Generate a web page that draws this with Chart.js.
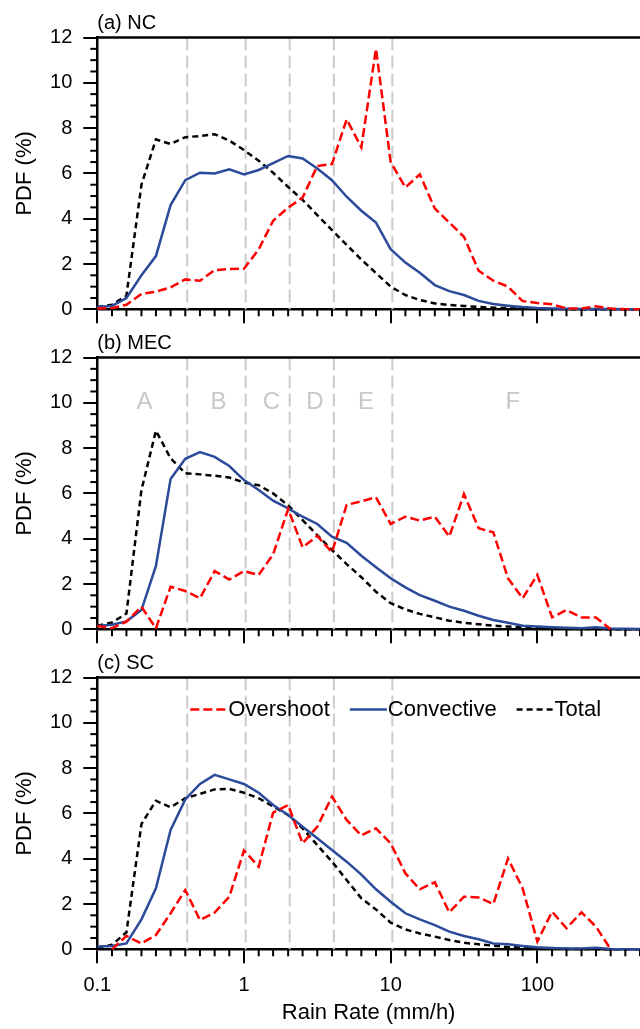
<!DOCTYPE html>
<html>
<head>
<meta charset="utf-8">
<title>Rain rate PDF</title>
<script src="https://cdn.jsdelivr.net/npm/chart.js@4.4.1/dist/chart.umd.min.js"></script>
<style>
  html, body { margin: 0; padding: 0; background: #fff; overflow: hidden; }
  #wrap { position: relative; width: 640px; height: 1029px; }
  #wrap canvas { position: absolute; left: 0; }
</style>
</head>
<body>
<div id="wrap">
  <canvas id="panelA" width="640" height="335" style="top:0px;width:640px;height:335px"></canvas>
  <canvas id="panelB" width="640" height="335" style="top:320px;width:640px;height:335px"></canvas>
  <canvas id="panelC" width="640" height="389" style="top:640px;width:640px;height:389px"></canvas>
</div>
<script>
// Rain-rate bin centres (mm/h), 10 bins per decade
const rainRate = [0.1, 0.126, 0.158, 0.2, 0.251, 0.316, 0.398, 0.501, 0.631, 0.794,
                  1, 1.26, 1.58, 2, 2.51, 3.16, 3.98, 5.01, 6.31, 7.94,
                  10, 12.6, 15.8, 20, 25.1, 31.6, 39.8, 50.1, 63.1, 79.4,
                  100, 126, 158, 200, 251, 316, 398, 501];

// Axis ticks
const xTickValues = [0.1, 1, 10, 100];
const xTickLabels = ['0.1', '1', '10', '100'];
const yTickValues = [0, 2, 4, 6, 8, 10, 12];

// Rain-rate regimes A–F and their boundaries
const regimeBounds = [0.41, 1.027, 2.05, 4.1, 10.27];
const regimeLetters = ['A', 'B', 'C', 'D', 'E', 'F'];
const regimeLetterX = [0.21, 0.67, 1.54, 3.04, 6.8, 68];
const regimeLetterY = 10;

const seriesNames = ['Overshoot', 'Convective', 'Total'];
const panelTitles = ['(a) NC', '(b) MEC', '(c) SC'];

// PDF (%) — North China
const ncOvershoot = [0.03, 0.05, 0.2, 0.68, 0.78, 0.97, 1.32, 1.26, 1.73, 1.78,
                     1.79, 2.65, 3.91, 4.49, 4.93, 6.33, 6.41, 8.39, 7.15, 11.5,
                     6.5, 5.38, 5.96, 4.45, 3.83, 3.2, 1.7, 1.26, 1.0, 0.36,
                     0.28, 0.22, 0.04, 0.03, 0.13, 0.03, 0, 0];
const ncConvective = [0.1, 0.15, 0.5, 1.5, 2.35, 4.6, 5.7, 6.03, 6.0, 6.18,
                      5.95, 6.15, 6.45, 6.77, 6.66, 6.22, 5.7, 4.97, 4.35, 3.83,
                      2.65, 2.06, 1.61, 1.07, 0.8, 0.63, 0.37, 0.23, 0.16, 0.1,
                      0.06, 0.04, 0.02, 0.01, 0.01, 0.01, 0, 0];
const ncTotal = [0.1, 0.2, 0.6, 5.5, 7.5, 7.3, 7.6, 7.65, 7.73, 7.45,
                 7.03, 6.56, 6.03, 5.4, 4.83, 4.16, 3.5, 2.84, 2.2, 1.6,
                 1.0, 0.63, 0.41, 0.26, 0.19, 0.15, 0.1, 0.07, 0.05, 0.03,
                 0.02, 0.01, 0.01, 0, 0, 0, 0, 0];

// PDF (%) — Middle and East China
const mecOvershoot = [0.15, 0.05, 0.34, 1.0, 0.04, 1.88, 1.69, 1.37, 2.57, 2.2,
                      2.57, 2.4, 3.31, 5.31, 3.62, 4.12, 3.4, 5.49, 5.65, 5.83,
                      4.65, 4.97, 4.8, 4.97, 4.09, 5.97, 4.46, 4.28, 2.25, 1.37,
                      2.4, 0.53, 0.85, 0.52, 0.52, 0, null, null];
const mecConvective = [0.15, 0.2, 0.35, 0.85, 2.8, 6.64, 7.53, 7.82, 7.61, 7.21,
                       6.59, 6.15, 5.68, 5.34, 4.97, 4.65, 4.09, 3.82, 3.25, 2.74,
                       2.25, 1.85, 1.51, 1.26, 1.0, 0.82, 0.6, 0.41, 0.29, 0.16,
                       0.12, 0.09, 0.07, 0.05, 0.09, 0.04, 0.02, 0.01];
const mecTotal = [0.16, 0.3, 0.7, 6.15, 8.77, 7.55, 6.89, 6.84, 6.78, 6.7,
                  6.48, 6.36, 6.0, 5.47, 4.82, 4.16, 3.5, 2.88, 2.3, 1.66,
                  1.15, 0.88, 0.68, 0.53, 0.38, 0.29, 0.22, 0.16, 0.12, 0.08,
                  0.05, 0.03, 0.02, 0.01, 0.01, 0, 0, 0];

// PDF (%) — South China
const scOvershoot = [null, 0, 0.59, 0.26, 0.63, 1.59, 2.62, 1.29, 1.62, 2.32,
                     4.36, 3.65, 6.03, 6.37, 4.68, 5.41, 6.74, 5.71, 5.03, 5.34,
                     4.68, 3.35, 2.65, 2.96, 1.63, 2.32, 2.29, 2.0, 4.01, 2.69,
                     0.34, 1.66, 0.93, 1.63, 1.0, 0, null, null];
const scConvective = [0.12, 0.15, 0.26, 1.32, 2.69, 5.27, 6.62, 7.3, 7.7, 7.5,
                      7.3, 6.91, 6.37, 5.93, 5.41, 4.9, 4.38, 3.87, 3.3, 2.65,
                      2.1, 1.59, 1.32, 1.07, 0.78, 0.59, 0.44, 0.26, 0.22, 0.15,
                      0.09, 0.06, 0.04, 0.03, 0.07, 0.01, 0, 0];
const scTotal = [0.05, 0.2, 0.75, 5.53, 6.56, 6.27, 6.67, 6.86, 7.06, 7.08,
                 6.91, 6.67, 6.3, 5.93, 5.34, 4.6, 3.87, 3.06, 2.25, 1.76,
                 1.18, 0.88, 0.7, 0.56, 0.41, 0.29, 0.22, 0.16, 0.1, 0.07,
                 0.05, 0.03, 0.02, 0.01, 0.01, 0, 0, 0];

const FONT = "'Liberation Sans', Arial, Helvetica, sans-serif";
Chart.defaults.font.family = FONT;
Chart.defaults.color = '#000';

const lineStyles = [
  { color: '#ff0000', dash: [9, 4] },   // Overshoot
  { color: '#2b4a9a', dash: [] },       // Convective
  { color: '#000000', dash: [6, 4] }    // Total
];

// Frame, minor ticks, regime markers, panel title and in-plot legend
const panelDecor = {
  id: 'panelDecor',
  beforeDatasetsDraw(chart, args, o) {
    const { ctx, chartArea: a, scales: { x, y } } = chart;
    ctx.save();
    ctx.strokeStyle = '#cccccc';
    ctx.lineWidth = 2;
    ctx.setLineDash([13, 5]);
    regimeBounds.forEach(v => {
      const px = x.getPixelForValue(v);
      ctx.beginPath();
      ctx.moveTo(px, a.top);
      ctx.lineTo(px, a.bottom);
      ctx.stroke();
    });
    ctx.setLineDash([]);
    if (o.letters) {
      ctx.fillStyle = '#c8c8c8';
      ctx.font = '24px ' + FONT;
      ctx.textAlign = 'center';
      ctx.textBaseline = 'middle';
      regimeLetters.forEach((t, i) => {
        ctx.fillText(t, x.getPixelForValue(regimeLetterX[i]), y.getPixelForValue(regimeLetterY));
      });
    }
    ctx.restore();
  },
  afterDraw(chart, args, o) {
    const { ctx, chartArea: a, scales: { x, y } } = chart;
    ctx.save();
    // top frame line
    ctx.strokeStyle = '#000';
    ctx.lineWidth = 2.5;
    ctx.beginPath();
    ctx.moveTo(a.left - 1.25, a.top);
    ctx.lineTo(a.right, a.top);
    ctx.stroke();
    // minor ticks
    ctx.lineWidth = 2;
    rainRate.forEach(v => {
      if (xTickValues.includes(v)) return;
      const px = x.getPixelForValue(v);
      ctx.beginPath();
      ctx.moveTo(px, a.bottom);
      ctx.lineTo(px, a.bottom + 7);
      ctx.stroke();
    });
    for (let v = 0.5; v < 12; v += 0.5) {
      if (v % 2 === 0) continue;
      const py = y.getPixelForValue(v);
      ctx.beginPath();
      ctx.moveTo(a.left, py);
      ctx.lineTo(a.left - 7, py);
      ctx.stroke();
    }
    // panel title
    ctx.fillStyle = '#000';
    ctx.font = '20px ' + FONT;
    ctx.textAlign = 'left';
    ctx.textBaseline = 'middle';
    ctx.fillText(o.title, a.left, a.top - 14);
    // legend
    if (o.legend) {
      let lx = a.left + 93;
      const ly = a.top + 32;
      ctx.font = '22px ' + FONT;
      chart.data.datasets.forEach(ds => {
        ctx.strokeStyle = ds.borderColor;
        ctx.lineWidth = 2.5;
        ctx.setLineDash(ds.borderDash || []);
        ctx.beginPath();
        ctx.moveTo(lx, ly);
        ctx.lineTo(lx + 37, ly);
        ctx.stroke();
        ctx.setLineDash([]);
        ctx.fillStyle = '#000';
        ctx.fillText(ds.label, lx + 38, ly);
        lx += 38 + ctx.measureText(ds.label).width + 20;
      });
    }
    ctx.restore();
  }
};

function makePanel(id, title, series, isBottom) {
  const canvas = document.getElementById(id);
  const H = canvas.height;
  const plotBottom = 309.3;
  return new Chart(canvas, {
    type: 'line',
    data: {
      labels: rainRate,
      datasets: series.map((vals, i) => ({
        label: seriesNames[i],
        data: rainRate.map((r, k) => ({ x: r, y: vals[k] })),
        borderColor: lineStyles[i].color,
        borderDash: lineStyles[i].dash,
        borderWidth: 2.5,
        pointRadius: 0,
        tension: 0,
        fill: false,
        clip: false
      }))
    },
    options: {
      responsive: false,
      maintainAspectRatio: false,
      devicePixelRatio: 1,
      animation: false,
      events: [],
      layout: { padding: { top: 37.5, left: 0, right: 0, bottom: 0 } },
      plugins: {
        legend: { display: false },
        tooltip: { enabled: false },
        panelDecor: { title: title, letters: id === 'panelB', legend: isBottom }
      },
      scales: {
        x: {
          type: 'logarithmic',
          min: 0.1,
          max: 501,
          afterBuildTicks: s => { s.ticks = xTickValues.map(v => ({ value: v })); },
          afterFit: s => { s.height = H - plotBottom; },
          ticks: {
            display: isBottom,
            autoSkip: false,
            maxRotation: 0,
            padding: 10,
            color: '#000',
            font: { family: FONT, size: 20 },
            callback: (v, i) => xTickLabels[i]
          },
          grid: { drawOnChartArea: false, drawTicks: true, tickLength: 14, tickWidth: 2, tickColor: '#000', color: '#000', lineWidth: 2 },
          border: { display: true, color: '#000', width: 2.5 },
          title: {
            display: isBottom,
            text: 'Rain Rate (mm/h)',
            color: '#000',
            font: { family: FONT, size: 22 },
            padding: { top: 0, bottom: 2.8 }
          }
        },
        y: {
          type: 'linear',
          min: 0,
          max: 12,
          afterBuildTicks: s => { s.ticks = yTickValues.map(v => ({ value: v })); },
          afterFit: s => { s.width = 97.3; },
          ticks: { padding: 11, color: '#000', font: { family: FONT, size: 20 } },
          grid: { drawOnChartArea: false, drawTicks: true, tickLength: 14, tickWidth: 2, tickColor: '#000', color: '#000', lineWidth: 2 },
          border: { display: true, color: '#000', width: 2.5 },
          title: {
            display: true,
            text: 'PDF (%)',
            color: '#000',
            font: { family: FONT, size: 22 },
            padding: { top: 11.8, bottom: 0 }
          }
        }
      }
    },
    plugins: [panelDecor]
  });
}

makePanel('panelA', panelTitles[0], [ncOvershoot, ncConvective, ncTotal], false);
makePanel('panelB', panelTitles[1], [mecOvershoot, mecConvective, mecTotal], false);
makePanel('panelC', panelTitles[2], [scOvershoot, scConvective, scTotal], true);
</script>
</body>
</html>
